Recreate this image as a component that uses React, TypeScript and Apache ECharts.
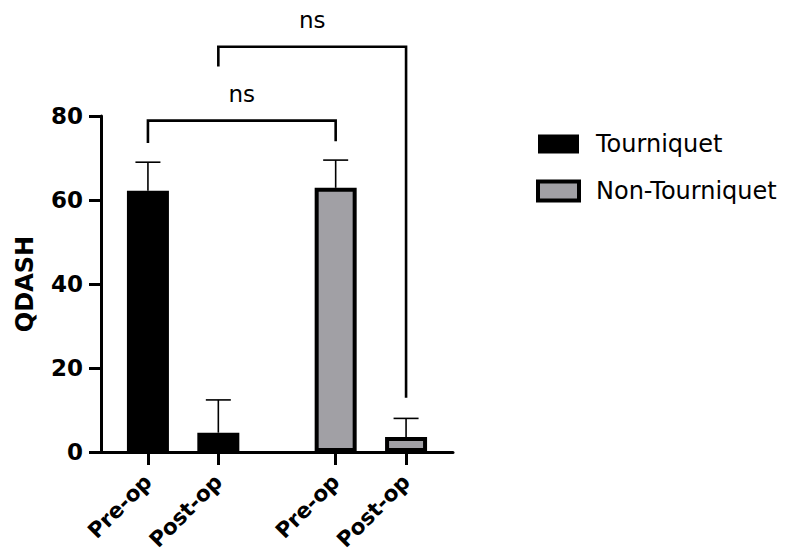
import React, { useEffect, useRef } from 'react';
import * as echarts from 'echarts';

const groups = ['Tourniquet', 'Non-Tourniquet'];
const xSlots = ['', '', 'Pre-op', '', '', 'Post-op', '', '', '', '', 'Pre-op', '', '', 'Post-op', '', ''];
const tourniquetMean = [62.2, 4.6];
const tourniquetUpper = [69.0, 12.4];
const nonTourniquetMean = [62.9, 3.6];
const nonTourniquetUpper = [69.5, 8.0];
const yTicks = [0, 20, 40, 60, 80];
// [fromBar, toBar, level, leftLegEnd, rightLegEnd]
const bracketLower = [0, 2, 78.9, 73.6, 74.0];
const bracketUpper = [1, 3, 96.5, 91.8, 12.9];
const bracketLabels = ['ns', 'ns'];

const FONT = "'DejaVu Sans', 'Liberation Sans', Arial, sans-serif";
const GRAY = '#a1a0a5';

export default function App() {
  const ref = useRef<HTMLDivElement>(null);
  useEffect(() => {
    if (!ref.current) return;
    const chart = echarts.init(ref.current, null, { renderer: 'svg' });
    const barSlots = xSlots.map((l, i) => (l ? i : -1)).filter((i) => i >= 0);
    const tSlots = barSlots.slice(0, 2);
    const nSlots = barSlots.slice(2, 4);
    const barData = (slots: number[], vals: number[]) =>
      xSlots.map((_, i) => {
        const k = slots.indexOf(i);
        return k >= 0 ? vals[k] : null;
      });
    const errRender = (params: any, api: any) => {
      const x = api.value(0);
      const p0 = api.coord([x, api.value(1)]);
      const p1 = api.coord([x, api.value(2)]);
      const st = { stroke: '#000', lineWidth: 1.6 };
      return {
        type: 'group',
        children: [
          { type: 'line', shape: { x1: p0[0], y1: p0[1], x2: p1[0], y2: p1[1] }, style: st },
          { type: 'line', shape: { x1: p1[0] - 12.5, y1: p1[1], x2: p1[0] + 12.5, y2: p1[1] }, style: st },
        ],
      };
    };
    const brackets = [bracketLower, bracketUpper].map((b) => [barSlots[b[0]], barSlots[b[1]], b[2], b[3], b[4]]);
    const bracketRender = (params: any, api: any) => {
      const xa = api.value(0), xb = api.value(1);
      const lvl = api.value(2), la = api.value(3), lb = api.value(4);
      const a0 = api.coord([xa, la]);
      const a1 = api.coord([xa, lvl]);
      const b1 = api.coord([xb, lvl]);
      const b0 = api.coord([xb, lb]);
      return {
        type: 'group',
        children: [
          {
            type: 'polyline',
            shape: { points: [a0, a1, b1, b0] },
            style: { stroke: '#000', lineWidth: 2.6, fill: null },
          },
          {
            type: 'text',
            x: (a1[0] + b1[0]) / 2,
            y: a1[1] - 27,
            style: {
              text: bracketLabels[params.dataIndex],
              fill: '#000',
              font: `23px ${FONT}`,
              align: 'center',
              verticalAlign: 'middle',
            },
          },
        ],
      };
    };
    chart.setOption({
      animation: false,
      backgroundColor: '#fff',
      grid: { left: 101, top: 116, width: 352, height: 336, containLabel: false, outerBoundsMode: 'none' },
      legend: {
        orient: 'vertical',
        left: 531,
        top: 127,
        itemWidth: 41,
        itemHeight: 19,
        itemGap: 23,
        icon: 'rect',
        textStyle: { fontFamily: FONT, fontSize: 24, color: '#000', padding: [0, 0, 0, 12] },
        data: [
          { name: groups[0], itemStyle: { borderWidth: 0, color: '#000' } },
          { name: groups[1], itemStyle: { borderWidth: 4, borderColor: '#000', color: GRAY } },
        ],
      },
      xAxis: {
        type: 'category',
        data: xSlots,
        boundaryGap: false,
        axisLine: { lineStyle: { color: '#000', width: 3 } },
        axisTick: {
          length: 13,
          lineStyle: { color: '#000', width: 3 },
          interval: (i: number, v: string) => v !== '',
        },
        axisLabel: {
          interval: (i: number, v: string) => v !== '',
          rotate: 45,
          margin: 26,
          fontFamily: FONT,
          fontWeight: 'bold',
          fontSize: 21.5,
          color: '#000',
        },
        splitLine: { show: false },
      },
      yAxis: {
        type: 'value',
        min: yTicks[0],
        max: yTicks[yTicks.length - 1],
        interval: 20,
        name: 'QDASH',
        nameLocation: 'middle',
        nameGap: 64,
        nameTextStyle: { fontFamily: FONT, fontWeight: 'bold', fontSize: 24, color: '#000' },
        axisLine: { show: true, lineStyle: { color: '#000', width: 3 } },
        axisTick: { show: true, length: 12, lineStyle: { color: '#000', width: 3 } },
        axisLabel: { margin: 18, fontFamily: FONT, fontWeight: 'bold', fontSize: 23, color: '#000' },
        splitLine: { show: false },
      },
      series: [
        {
          name: groups[0],
          type: 'bar',
          barWidth: 42,
          barGap: '-100%',
          data: barData(tSlots, tourniquetMean),
          itemStyle: { color: '#000', borderColor: '#000', borderWidth: 4 },
        },
        {
          name: groups[1],
          type: 'bar',
          barWidth: 42,
          barGap: '-100%',
          data: barData(nSlots, nonTourniquetMean),
          itemStyle: { color: GRAY, borderColor: '#000', borderWidth: 4 },
        },
        {
          type: 'custom',
          renderItem: errRender,
          encode: { x: 0, y: [1, 2] },
          data: tSlots.map((s, k) => [s, tourniquetMean[k], tourniquetUpper[k]]),
          z: 3,
        },
        {
          type: 'custom',
          renderItem: errRender,
          encode: { x: 0, y: [1, 2] },
          data: nSlots.map((s, k) => [s, nonTourniquetMean[k], nonTourniquetUpper[k]]),
          z: 3,
        },
        {
          type: 'custom',
          renderItem: bracketRender,
          encode: { x: [0, 1], y: [2, 3, 4] },
          data: brackets,
          clip: false,
          z: 3,
        },
      ],
    });
    return () => chart.dispose();
  }, []);
  return (
    <div
      ref={ref}
      style={{ position: 'absolute', left: 0, top: 0, width: 787, height: 554, background: '#fff' }}
    />
  );
}
